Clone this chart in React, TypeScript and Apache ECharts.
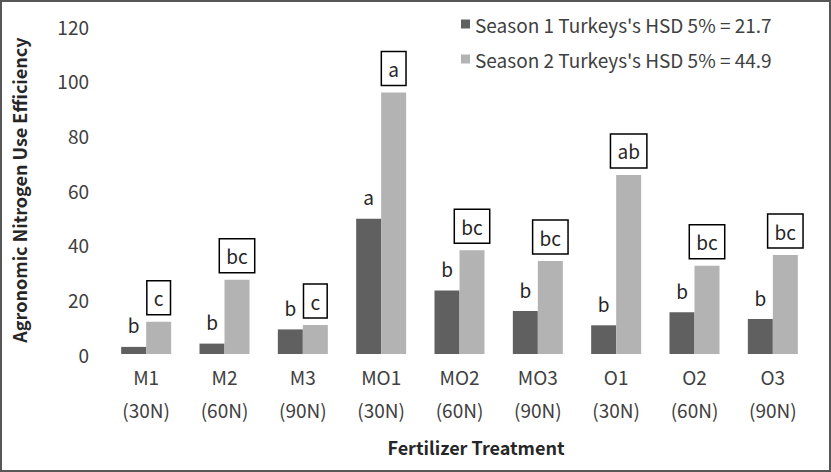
import { useEffect, useRef } from 'react';
import * as echarts from 'echarts';

const categories = [
    'M1\n(30N)', 'M2\n(60N)', 'M3\n(90N)', 'MO1\n(30N)', 'MO2\n(60N)',
    'MO3\n(90N)', 'O1\n(30N)', 'O2\n(60N)', 'O3\n(90N)',
];
const season1 = [2.6, 3.8, 9.0, 49.5, 23.2, 15.7, 10.5, 15.3, 12.8];
const season2 = [11.8, 27.2, 10.6, 95.7, 38.0, 34.0, 65.5, 32.3, 36.2];
const season1Letters = ['b', 'b', 'b', 'a', 'b', 'b', 'b', 'b', 'b'];
const season2Letters = ['c', 'bc', 'c', 'a', 'bc', 'bc', 'ab', 'bc', 'bc'];
const seriesNames = [
    "Season 1 Turkeys's HSD 5% = 21.7",
    "Season 2 Turkeys's HSD 5% = 44.9",
];

const FONT = '"Noto Sans CJK SC", "Noto Sans", sans-serif';

export default function App() {
    const chartRef = useRef<HTMLDivElement>(null);

    useEffect(() => {
        const myChart = echarts.init(chartRef.current, null, { renderer: 'svg' });

        myChart.setOption({
            animation: false,
            textStyle: { fontFamily: FONT },
            graphic: [
                {
                    type: 'rect',
                    shape: { x: 1, y: 1, width: 829, height: 470 },
                    style: { fill: 'none', stroke: '#575757', lineWidth: 2 },
                    silent: true,
                },
                {
                    type: 'text',
                    x: 476,
                    y: 447,
                    style: {
                        text: 'Fertilizer Treatment',
                        font: `bold 18px ${FONT}`,
                        fill: '#262626',
                        align: 'center',
                        verticalAlign: 'middle',
                    },
                },
            ],
            legend: {
                orient: 'vertical',
                left: 461,
                top: 14,
                itemWidth: 9,
                itemHeight: 9,
                itemGap: 15,
                icon: 'rect',
                padding: 0,
                textStyle: { fontSize: 19, lineHeight: 20, color: '#404040', fontFamily: FONT },
                data: seriesNames,
            },
            grid: { left: 107, right: 19, top: 26, bottom: 118 },
            xAxis: {
                type: 'category',
                data: categories,
                axisLine: { show: false },
                axisTick: { show: false },
                axisLabel: {
                    fontSize: 19,
                    lineHeight: 33,
                    color: '#404040',
                    margin: 6,
                    interval: 0,
                },
            },
            yAxis: {
                type: 'value',
                min: 0,
                max: 120,
                interval: 20,
                name: 'Agronomic Nitrogen Use Efficiency',
                nameLocation: 'middle',
                nameGap: 79,
                nameTextStyle: { fontSize: 18, fontWeight: 'bold', color: '#262626' },
                axisLine: { show: false },
                axisTick: { show: false },
                splitLine: { show: false },
                axisLabel: { fontSize: 19, color: '#404040', margin: 18 },
            },
            series: [
                {
                    name: seriesNames[0],
                    type: 'bar',
                    data: season1,
                    barWidth: 25,
                    barGap: '0%',
                    itemStyle: { color: '#606060' },
                    label: {
                        show: true,
                        position: 'top',
                        distance: 12,
                        fontSize: 19,
                        lineHeight: 20,
                        color: '#262626',
                        formatter: (p: any) => season1Letters[p.dataIndex],
                    },
                },
                {
                    name: seriesNames[1],
                    type: 'bar',
                    data: season2,
                    barWidth: 25,
                    itemStyle: { color: '#b3b3b3' },
                    label: {
                        show: true,
                        position: 'top',
                        distance: 7,
                        fontSize: 19,
                        lineHeight: 20,
                        color: '#262626',
                        borderColor: '#000',
                        borderWidth: 1.5,
                        padding: [7, 7],
                        formatter: (p: any) => season2Letters[p.dataIndex],
                    },
                },
            ],
        });

        return () => {
            myChart.dispose();
        };
    }, []);

    return (
        <div
            ref={chartRef}
            style={{ position: 'absolute', left: 0, top: 0, width: '831px', height: '472px', background: '#fff' }}
        />
    );
}
